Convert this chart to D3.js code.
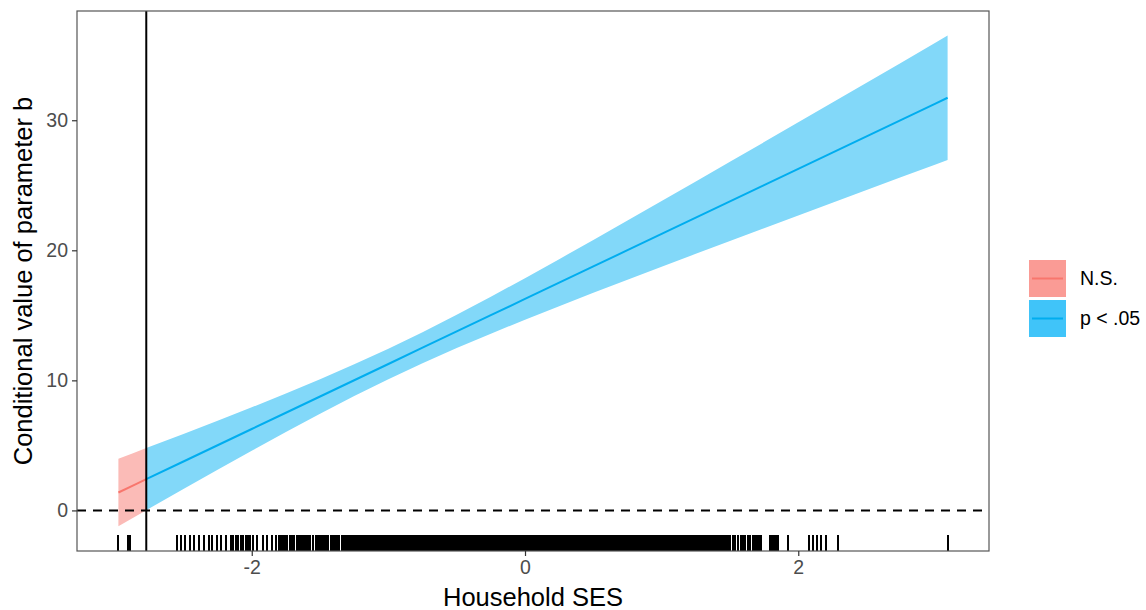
<!DOCTYPE html>
<html>
<head>
<meta charset="utf-8">
<script src="https://cdn.jsdelivr.net/npm/d3@7"></script>
<style>
  body { margin: 0; background: #fff; }
  text { font-family: "Liberation Sans", Arial, sans-serif; }
</style>
</head>
<body>
<div id="chart"></div>
<script>
// moderator values and estimates
const nsX = [-2.976, -2.874, -2.772];
const nsEst = [1.38, 1.89, 2.40];
const nsLow = [-1.21, -0.60, 0.02];
const nsHigh = [3.97, 4.38, 4.79];

const sigX = [-2.772, -2.5, -2.25, -2, -1.75, -1.5, -1.25, -1, -0.75, -0.5, -0.25, 0,
  0.25, 0.5, 0.75, 1, 1.25, 1.5, 1.75, 2, 2.25, 2.5, 2.75, 3, 3.093];
const sigEst = [2.40, 3.76, 5.01, 6.26, 7.51, 8.76, 10.01, 11.26, 12.51, 13.76, 15.01, 16.26,
  17.51, 18.76, 20.01, 21.26, 22.51, 23.76, 25.01, 26.26, 27.51, 28.76, 30.01, 31.26, 31.73];
const sigLow = [0.02, 1.64, 3.12, 4.59, 6.03, 7.44, 8.80, 10.09, 11.32, 12.48, 13.59, 14.66,
  15.70, 16.73, 17.74, 18.74, 19.73, 20.72, 21.70, 22.68, 23.66, 24.64, 25.61, 26.58, 26.95];
const sigHigh = [4.79, 5.88, 6.90, 7.93, 8.99, 10.08, 11.23, 12.43, 13.70, 15.04, 16.43, 17.86,
  19.32, 20.80, 22.29, 23.79, 25.29, 26.80, 28.32, 29.84, 31.36, 32.89, 34.41, 35.94, 36.51];

const jnPoint = -2.772;

// observed Household SES values (rug)
const rugLeft = [-2.976, -2.905, -2.89, -2.545, -2.516, -2.486, -2.452, -2.423, -2.384, -2.35,
  -2.315, -2.293, -2.252, -2.227, -2.189, -2.154, -2.135, -2.116, -2.099, -2.081, -2.062,
  -2.044, -2.025, -2.013, -1.989, -1.964, -1.916, -1.891, -1.855, -1.82, -1.80];
const rugDense = [
  -1.79, -1.78, -1.77, -1.76, -1.75, -1.74, -1.72, -1.71, -1.70, -1.69, -1.67, -1.66, -1.65,
  -1.64, -1.63, -1.62, -1.60, -1.59, -1.58, -1.57, -1.55, -1.53, -1.52, -1.51, -1.50, -1.49,
  -1.48, -1.47, -1.46, -1.45, -1.44, -1.42, -1.41, -1.40, -1.38, -1.37, -1.36, -1.34, -1.33,
  -1.32, -1.31, -1.30, -1.29, -1.28, -1.27, -1.26, -1.25, -1.24, -1.23, -1.22, -1.21, -1.20,
  -1.19, -1.18, -1.17, -1.16, -1.15, -1.14, -1.13, -1.12, -1.11, -1.10, -1.09, -1.08, -1.07,
  -1.06, -1.05, -1.04, -1.03, -1.02, -1.01, -1.00, -0.99, -0.98, -0.97, -0.96, -0.95, -0.94,
  -0.93, -0.92, -0.91, -0.90, -0.89, -0.88, -0.87, -0.86, -0.85, -0.84, -0.83, -0.82, -0.81,
  -0.80, -0.79, -0.78, -0.77, -0.76, -0.75, -0.74, -0.73, -0.72, -0.71, -0.70, -0.69, -0.68,
  -0.67, -0.66, -0.65, -0.64, -0.63, -0.62, -0.61, -0.60, -0.59, -0.58, -0.57, -0.56, -0.55,
  -0.54, -0.53, -0.52, -0.51, -0.50, -0.49, -0.48, -0.47, -0.46, -0.45, -0.44, -0.43, -0.42,
  -0.41, -0.40, -0.39, -0.38, -0.37, -0.36, -0.35, -0.34, -0.33, -0.32, -0.31, -0.30, -0.29,
  -0.28, -0.27, -0.26, -0.25, -0.24, -0.23, -0.22, -0.21, -0.20, -0.19, -0.18, -0.17, -0.16,
  -0.15, -0.14, -0.13, -0.12, -0.11, -0.10, -0.09, -0.08, -0.07, -0.06, -0.05, -0.04, -0.03,
  -0.02, -0.01, 0.00, 0.01, 0.02, 0.03, 0.04, 0.05, 0.06, 0.07, 0.08, 0.09, 0.10, 0.11,
  0.12, 0.13, 0.14, 0.15, 0.16, 0.17, 0.18, 0.19, 0.20, 0.21, 0.22, 0.23, 0.24, 0.25, 0.26,
  0.27, 0.28, 0.29, 0.30, 0.31, 0.32, 0.33, 0.34, 0.35, 0.36, 0.37, 0.38, 0.39, 0.40, 0.41,
  0.42, 0.43, 0.44, 0.45, 0.46, 0.47, 0.48, 0.49, 0.50, 0.51, 0.52, 0.53, 0.54, 0.55, 0.56,
  0.57, 0.58, 0.59, 0.60, 0.61, 0.62, 0.63, 0.64, 0.65, 0.66, 0.67, 0.68, 0.69, 0.70, 0.71,
  0.72, 0.73, 0.74, 0.75, 0.76, 0.77, 0.78, 0.79, 0.80, 0.81, 0.82, 0.83, 0.84, 0.85, 0.86,
  0.87, 0.88, 0.89, 0.90, 0.91, 0.92, 0.93, 0.94, 0.95, 0.96, 0.97, 0.98, 0.99, 1.00, 1.01,
  1.02, 1.03, 1.04, 1.05, 1.06, 1.07, 1.08, 1.09, 1.10, 1.11, 1.12, 1.13, 1.14, 1.15, 1.16,
  1.17, 1.18, 1.19, 1.20, 1.21, 1.22, 1.23, 1.24, 1.25, 1.26, 1.27, 1.28, 1.29, 1.30, 1.31,
  1.32, 1.33, 1.34, 1.35, 1.36, 1.37, 1.38, 1.39, 1.40, 1.41, 1.42, 1.43, 1.44, 1.45, 1.46,
  1.47, 1.48, 1.49, 1.50, 1.52, 1.53, 1.54, 1.56, 1.58, 1.59, 1.60, 1.61, 1.63, 1.64, 1.65,
  1.67, 1.68, 1.69, 1.70, 1.71];
const rugRight = [1.729, 1.79, 1.80, 1.81, 1.82, 1.83, 1.84, 1.85, 1.928, 2.08, 2.11, 2.14,
  2.17, 2.20, 2.29, 3.093];

const xTicks = [-2, 0, 2];
const yTicks = [0, 10, 20, 30];
const legendLabels = ["N.S.", "p < .05"];

const width = 1146;
const height = 610;
const margin = { top: 11, right: 157, bottom: 59, left: 77 };
const innerW = width - margin.left - margin.right;
const innerH = height - margin.top - margin.bottom;

const red = "#F8766D", redFill = "#FBBBB7", redKey = "#FA9B95";
const blue = "#00ADEF", blueFill = "#82D8F9", blueKey = "#40C4F9";

const svg = d3.select("#chart")
  .append("svg")
  .attr("width", width)
  .attr("height", height);

const g = svg.append("g")
  .attr("transform", `translate(${margin.left}, ${margin.top})`);

// ggplot-style 5% expansion around the data
const xScale = d3.scaleLinear().domain([-3.279, 3.396]).range([0, innerW]);
const yScale = d3.scaleLinear().domain([-3.12, 38.4]).range([innerH, 0]);

const ns = nsX.map((x, i) => ({ x, est: nsEst[i], lo: nsLow[i], hi: nsHigh[i] }));
const sig = sigX.map((x, i) => ({ x, est: sigEst[i], lo: sigLow[i], hi: sigHigh[i] }));

const area = d3.area()
  .x(d => xScale(d.x))
  .y0(d => yScale(d.lo))
  .y1(d => yScale(d.hi));
const line = d3.line()
  .x(d => xScale(d.x))
  .y(d => yScale(d.est));

// ribbons
g.append("path").datum(ns).attr("d", area).attr("fill", redFill);
g.append("path").datum(sig).attr("d", area).attr("fill", blueFill);

// estimate lines
g.append("path").datum(ns).attr("d", line)
  .attr("fill", "none").attr("stroke", red).attr("stroke-width", 2);
g.append("path").datum(sig).attr("d", line)
  .attr("fill", "none").attr("stroke", blue).attr("stroke-width", 2);

// zero reference line
g.append("line")
  .attr("x1", 0).attr("x2", innerW)
  .attr("y1", yScale(0)).attr("y2", yScale(0))
  .attr("stroke", "#000").attr("stroke-width", 2)
  .attr("stroke-dasharray", "9,7");

// Johnson-Neyman boundary
g.append("line")
  .attr("x1", xScale(jnPoint)).attr("x2", xScale(jnPoint))
  .attr("y1", 0).attr("y2", innerH)
  .attr("stroke", "#000").attr("stroke-width", 2);

// rug
const rug = rugLeft.concat(rugDense, rugRight);
g.selectAll(".rug")
  .data(rug)
  .enter()
  .append("line")
  .attr("class", "rug")
  .attr("x1", d => xScale(d)).attr("x2", d => xScale(d))
  .attr("y1", innerH).attr("y2", innerH - innerH * 0.03)
  .attr("stroke", "#000").attr("stroke-width", 2)
  .attr("shape-rendering", "crispEdges");

// panel border
g.append("rect")
  .attr("width", innerW).attr("height", innerH)
  .attr("fill", "none").attr("stroke", "#555").attr("stroke-width", 1.2);

// axes
const xAxis = g.append("g")
  .attr("transform", `translate(0, ${innerH})`)
  .call(d3.axisBottom(xScale).tickValues(xTicks).tickFormat(d => String(d)).tickSize(5).tickPadding(4));
const yAxis = g.append("g")
  .call(d3.axisLeft(yScale).tickValues(yTicks).tickFormat(d => String(d)).tickSize(5).tickPadding(4));

[xAxis, yAxis].forEach(ax => {
  ax.select(".domain").remove();
  ax.selectAll(".tick line").attr("stroke", "#333").attr("stroke-width", 1.2);
  ax.selectAll(".tick text")
    .attr("fill", "#4D4D4D")
    .style("font-size", "19.5px")
    .style("font-family", "'Liberation Sans', Arial, sans-serif");
});

// axis titles
svg.append("text")
  .attr("x", margin.left + innerW / 2)
  .attr("y", 606)
  .attr("text-anchor", "middle")
  .style("font-size", "25.5px")
  .attr("fill", "#000")
  .text("Household SES");

svg.append("text")
  .attr("transform", `translate(32, ${margin.top + innerH / 2}) rotate(-90)`)
  .attr("text-anchor", "middle")
  .style("font-size", "25.5px")
  .attr("fill", "#000")
  .text("Conditional value of parameter b");

// legend
const legend = svg.append("g").attr("transform", "translate(1029, 260)");
const keyFills = [redKey, blueKey];
const keyLines = [red, blue];
legendLabels.forEach((lab, i) => {
  const k = legend.append("g").attr("transform", `translate(0, ${i * 40})`);
  k.append("rect").attr("width", 37).attr("height", 37).attr("fill", keyFills[i]);
  k.append("line")
    .attr("x1", 3).attr("x2", 34).attr("y1", 18.5).attr("y2", 18.5)
    .attr("stroke", keyLines[i]).attr("stroke-width", 2);
  k.append("text")
    .attr("x", 51).attr("y", 18.5)
    .attr("dy", "0.35em")
    .style("font-size", "19.5px")
    .attr("fill", "#000")
    .text(lab);
});
</script>
</body>
</html>
